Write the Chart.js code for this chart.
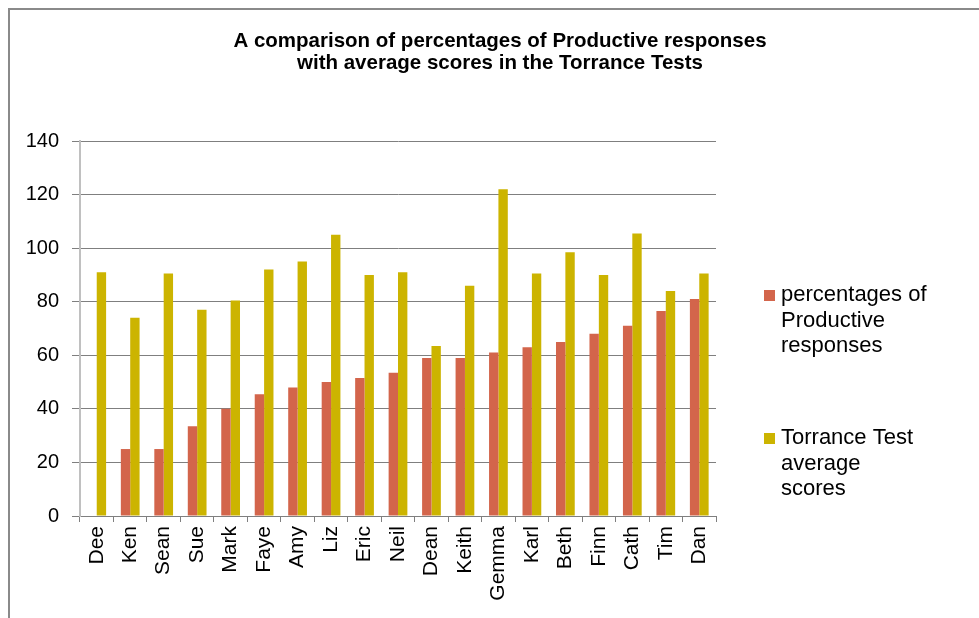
<!DOCTYPE html>
<html>
<head>
<meta charset="utf-8">
<script src="https://cdn.jsdelivr.net/npm/chart.js@4/dist/chart.umd.min.js"></script>
<style>
  html, body { margin: 0; padding: 0; background: #fff; }
  #wrap { width: 979px; height: 618px; }
</style>
</head>
<body>
<div id="wrap"><canvas id="c" width="979" height="618"></canvas></div>
<script>
const names = ['Dee', 'Ken', 'Sean', 'Sue', 'Mark', 'Faye', 'Amy', 'Liz', 'Eric', 'Neil',
  'Dean', 'Keith', 'Gemma', 'Karl', 'Beth', 'Finn', 'Cath', 'Tim', 'Dan']
const productive = [0, 25, 25, 33.5, 40, 45.5, 48, 50, 51.5, 53.5,
  59, 59, 61, 63, 65, 68, 71, 76.5, 81]
const torrance = [91, 74, 90.5, 77, 80.5, 92, 95, 105, 90, 91,
  63.5, 86, 122, 90.5, 98.5, 90, 105.5, 84, 90.5]
const titleLines = ['A comparison of percentages of Productive responses',
  'with average scores in the Torrance Tests']
const seriesNames = [
  ['percentages of', 'Productive', 'responses'],
  ['Torrance Test', 'average', 'scores']
]
const colors = ['#D3654B', '#CCB400']

const FONT = "'Liberation Sans', Arial, sans-serif"

// frame line, title and the wrapped legend
const decor = {
  id: 'decor',
  beforeDraw (chart) {
    const ctx = chart.ctx
    ctx.save()
    ctx.fillStyle = '#fff'
    ctx.fillRect(0, 0, chart.width, chart.height)
    ctx.strokeStyle = '#8a8a8a'
    ctx.lineWidth = 2
    ctx.beginPath()
    ctx.moveTo(9, chart.height)
    ctx.lineTo(9, 9)
    ctx.lineTo(chart.width, 9)
    ctx.stroke()
    ctx.restore()
  },
  afterDraw (chart) {
    const ctx = chart.ctx
    ctx.save()
    ctx.fillStyle = '#000'
    ctx.textAlign = 'center'
    ctx.textBaseline = 'middle'
    ctx.font = 'bold 20.5px ' + FONT
    titleLines.forEach((t, i) => ctx.fillText(t, 500, 41 + i * 22))

    ctx.textAlign = 'left'
    ctx.font = '22px ' + FONT
    const tops = [295, 438]
    seriesNames.forEach((lines, k) => {
      ctx.fillStyle = colors[k]
      ctx.fillRect(764, tops[k] - 5, 11, 11)
      ctx.fillStyle = '#000'
      lines.forEach((t, i) => ctx.fillText(t, 781, tops[k] + i * 25.5))
    })
    ctx.restore()
  }
}

new Chart(document.getElementById('c'), {
  type: 'bar',
  data: {
    labels: names,
    datasets: [
      { label: seriesNames[0].join(' '), data: productive, backgroundColor: colors[0] },
      { label: seriesNames[1].join(' '), data: torrance, backgroundColor: colors[1] }
    ]
  },
  options: {
    responsive: false,
    animation: false,
    layout: { padding: { left: 0, top: 141, right: 263, bottom: 0 } },
    datasets: { bar: { categoryPercentage: 0.56, barPercentage: 1 } },
    plugins: {
      legend: { display: false },
      title: { display: false },
      tooltip: { enabled: false }
    },
    scales: {
      x: {
        grid: { drawOnChartArea: false, tickLength: 6, color: '#7f7f7f' },
        border: { color: '#7f7f7f', width: 1 },
        ticks: {
          color: '#000',
          font: { family: FONT, size: 21 },
          minRotation: 90,
          maxRotation: 90,
          padding: 4
        },
        afterFit (scale) { scale.height = 102 }
      },
      y: {
        min: 0,
        max: 140,
        ticks: {
          stepSize: 20,
          color: '#000',
          font: { family: FONT, size: 20 },
          padding: 13
        },
        grid: { color: '#7f7f7f', tickLength: 8 },
        border: { color: '#c0c0c0', width: 2 },
        afterFit (scale) { scale.width = 80 }
      }
    }
  },
  plugins: [decor]
})
</script>
</body>
</html>
